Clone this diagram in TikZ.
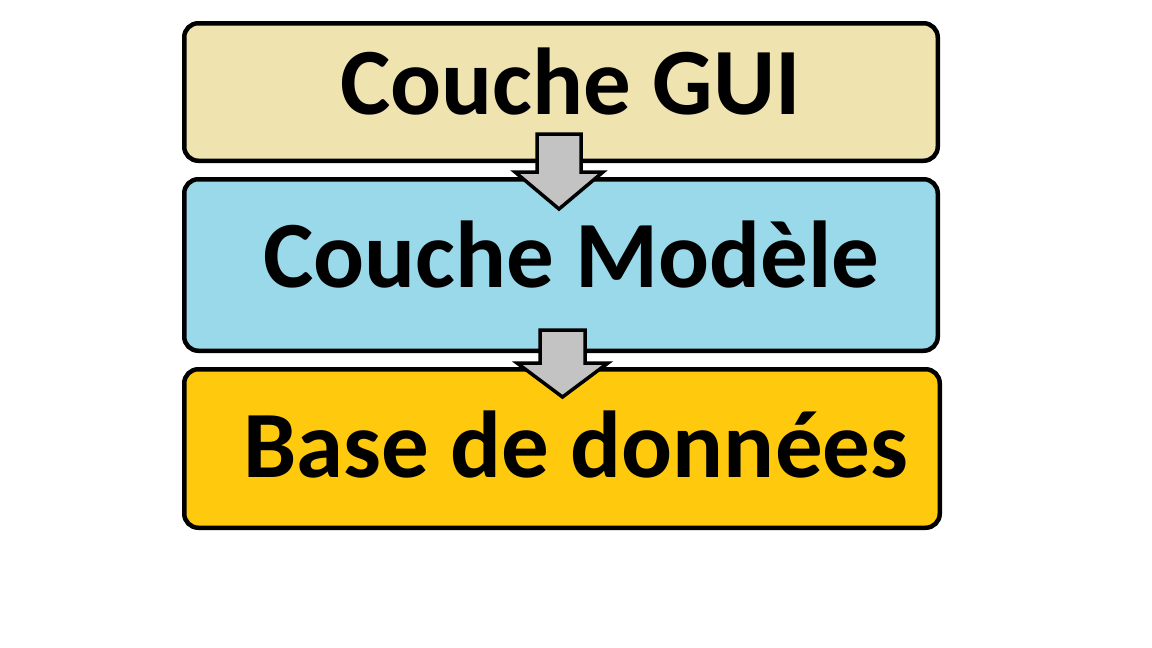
\documentclass[tikz,border=0pt]{standalone}
\usepackage{fontspec}
\setmainfont{Carlito}
\usepackage{tikz}
\usetikzlibrary{positioning, calc}
\definecolor{cream}{HTML}{EFE4B0}
\definecolor{turquoise}{HTML}{99D9EA}
\definecolor{gold}{HTML}{FFC90E}
\definecolor{lightgray}{HTML}{C3C3C3}
\tikzstyle{layer} = [rectangle, rounded corners=14pt, line width=4.5pt, draw=black, inner sep=0pt]
\tikzstyle{layertext} = [inner sep=0pt, anchor=base west, font=\fontsize{95}{100}\selectfont\bfseries]
\tikzstyle{blockarrow} = [line width=3.5pt, draw=black, fill=lightgray, line join=miter]

\begin{document}
\begin{tikzpicture}[x=1pt, y=-1pt]
\useasboundingbox (0,0) rectangle (1152,648);
\node (gui) [layer, fill=cream, minimum width=753.5pt, minimum height=137.5pt] at (561,92) {};
\node (modele) [layer, fill=turquoise, minimum width=753.5pt, minimum height=171.5pt] at (561,265) {};
\node (bdd) [layer, fill=gold, minimum width=755.5pt, minimum height=158.5pt] at (562,448.5) {};
\node (guitext) [layertext] at (340,114) {Couche GUI};
\node (modeletext) [layertext] at (263,287) {Couche Modèle};
\node (bddtext) [layertext] at (243,477) {Base de données};

\draw[blockarrow] (537,134) -- (537,172) -- (515,172) -- (559,209) -- (603,172) -- (581,172) -- (581,134) -- cycle;
\draw[blockarrow] (540,330) -- (540,363) -- (517,363) -- (562.5,397) -- (608,363) -- (585,363) -- (585,330) -- cycle;

\end{tikzpicture}
\end{document}
